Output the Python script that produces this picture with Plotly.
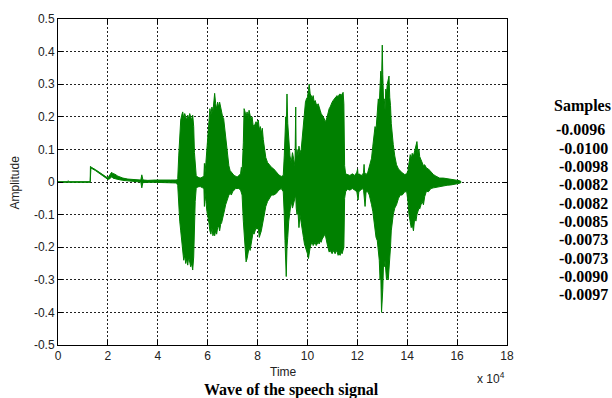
import plotly.graph_objects as go

# ---- envelope of the speech waveform (time in units of 10^4 samples) ----
t = [0.00, 0.38, 0.40, 0.44, 1.29, 1.30, 1.32, 1.50, 1.70, 1.90, 2.00, 2.08, 2.15, 2.20, 2.28, 2.40, 2.60, 2.80, 3.00, 3.32, 3.36, 3.40, 3.44, 3.60, 3.90, 4.20, 4.50, 4.75,
     4.80, 4.84, 4.88, 4.92, 4.96, 5.00, 5.04, 5.08, 5.12, 5.16, 5.20, 5.24, 5.28, 5.32, 5.36, 5.40, 5.44, 5.47, 5.50, 5.54,
     5.60, 5.70, 5.80, 5.85, 5.87, 5.89,
     5.93, 5.97, 6.01, 6.05, 6.09, 6.13, 6.17, 6.21, 6.25, 6.28, 6.32, 6.36, 6.40, 6.44, 6.48, 6.52, 6.56, 6.60, 6.64, 6.68, 6.72, 6.76, 6.80, 6.85, 6.90, 6.95, 7.00, 7.06, 7.12, 7.18,
     7.25, 7.32, 7.35, 7.38, 7.43, 7.46, 7.50, 7.54, 7.58, 7.62, 7.66, 7.70, 7.74, 7.78, 7.82, 7.86, 7.90, 7.94, 7.98, 8.03, 8.07, 8.11, 8.15, 8.19, 8.23, 8.28, 8.33, 8.40, 8.48, 8.56, 8.65, 8.75, 8.85, 8.95, 9.03,
     9.07, 9.10, 9.13, 9.15, 9.18, 9.21, 9.25, 9.30, 9.35, 9.40, 9.45, 9.50, 9.53, 9.55, 9.58, 9.62, 9.66, 9.70, 9.75, 9.80,
     9.84, 9.88, 9.92, 9.96, 10.00, 10.04, 10.07, 10.11, 10.15, 10.19, 10.23, 10.27, 10.31, 10.35, 10.39, 10.43, 10.47, 10.51, 10.55, 10.59, 10.63, 10.67, 10.71, 10.75, 10.79, 10.83, 10.87, 10.91, 10.95, 10.99, 11.03, 11.07, 11.11, 11.15, 11.19, 11.23, 11.27, 11.31, 11.35, 11.39, 11.43, 11.46, 11.49,
     11.53, 11.60, 11.70, 11.80, 11.90, 11.98, 12.01, 12.03, 12.06, 12.12, 12.20, 12.25, 12.27, 12.29, 12.31, 12.35, 12.42, 12.48,
     12.52, 12.57, 12.62, 12.67, 12.71, 12.75, 12.80, 12.84, 12.88, 12.91, 12.94, 12.97, 13.00, 13.02, 13.05, 13.08, 13.11, 13.14, 13.17, 13.20, 13.24, 13.27, 13.30, 13.33, 13.36, 13.40, 13.44, 13.50, 13.57, 13.65, 13.72, 13.80, 13.90,
     13.98, 14.03, 14.07, 14.12, 14.16, 14.20, 14.25, 14.30, 14.35, 14.39, 14.43, 14.47, 14.50, 14.55, 14.60, 14.65, 14.70, 14.77, 14.85, 14.95, 15.05, 15.15, 15.30, 15.45, 15.60, 15.75, 15.90, 16.00, 16.10, 16.15]

upper = [0.001, 0.001, 0.004, 0.001, 0.001, 0.048, 0.046, 0.038, 0.028, 0.017, 0.012, 0.022, 0.030, 0.026, 0.024, 0.018, 0.012, 0.009, 0.007, 0.006, 0.022, 0.008, 0.006, 0.005, 0.006, 0.005, 0.006, 0.006,
         0.010, 0.080, 0.150, 0.190, 0.205, 0.215, 0.195, 0.210, 0.200, 0.190, 0.205, 0.195, 0.210, 0.200, 0.190, 0.205, 0.170, 0.090, 0.050, 0.020,
         0.015, 0.012, 0.015, 0.020, 0.057, 0.025,
         0.060, 0.110, 0.150, 0.190, 0.225, 0.205, 0.230, 0.215, 0.250, 0.272, 0.240, 0.225, 0.245, 0.230, 0.245, 0.225, 0.215, 0.200, 0.195, 0.165, 0.130, 0.100, 0.070, 0.050, 0.035, 0.030, 0.025, 0.020, 0.018, 0.015,
         0.020, 0.025, 0.045, 0.030, 0.120, 0.225, 0.215, 0.200, 0.215, 0.195, 0.220, 0.205, 0.190, 0.200, 0.175, 0.170, 0.180, 0.185, 0.175, 0.190, 0.160, 0.170, 0.150, 0.165, 0.130, 0.095, 0.075, 0.060, 0.052, 0.045, 0.040, 0.030, 0.022, 0.017, 0.020,
         0.080, 0.150, 0.200, 0.160, 0.270, 0.180, 0.120, 0.080, 0.060, 0.090, 0.070, 0.050, 0.230, 0.060, 0.100, 0.080, 0.110, 0.090, 0.100, 0.150,
         0.180, 0.230, 0.245, 0.255, 0.260, 0.280, 0.300, 0.270, 0.265, 0.255, 0.265, 0.245, 0.250, 0.240, 0.235, 0.240, 0.225, 0.220, 0.210, 0.205, 0.200, 0.195, 0.185, 0.190, 0.200, 0.215, 0.225, 0.230, 0.240, 0.245, 0.250, 0.255, 0.258, 0.262, 0.265, 0.260, 0.268, 0.270, 0.265, 0.272, 0.275, 0.240, 0.050,
         0.025, 0.022, 0.020, 0.025, 0.020, 0.030, 0.040, 0.020, 0.025, 0.022, 0.020, 0.030, 0.054, 0.030, 0.025, 0.022, 0.030, 0.045,
         0.058, 0.073, 0.110, 0.150, 0.170, 0.160, 0.210, 0.255, 0.240, 0.305, 0.340, 0.300, 0.420, 0.330, 0.250, 0.255, 0.220, 0.285, 0.270, 0.300, 0.310, 0.325, 0.260, 0.235, 0.180, 0.130, 0.115, 0.080, 0.053, 0.040, 0.033, 0.028, 0.023,
         0.025, 0.035, 0.060, 0.084, 0.070, 0.088, 0.080, 0.100, 0.110, 0.124, 0.090, 0.100, 0.078, 0.070, 0.060, 0.050, 0.053, 0.043, 0.040, 0.030, 0.023, 0.018, 0.012, 0.012, 0.010, 0.009, 0.008, 0.006, 0.004, 0.002]

lower = [-0.001, -0.001, 0.000, -0.001, -0.001, 0.000, 0.043, 0.035, 0.025, 0.014, 0.008, 0.010, 0.016, 0.012, 0.011, 0.008, 0.005, 0.003, 0.002, 0.000, -0.018, -0.002, 0.000, -0.001, -0.001, -0.002, -0.002, -0.003,
         -0.010, -0.070, -0.120, -0.150, -0.175, -0.200, -0.240, -0.225, -0.250, -0.235, -0.255, -0.230, -0.245, -0.260, -0.250, -0.270, -0.230, -0.150, -0.060, -0.020,
         -0.015, -0.014, -0.018, -0.020, -0.075, -0.030,
         -0.060, -0.090, -0.110, -0.125, -0.150, -0.160, -0.140, -0.165, -0.155, -0.165, -0.150, -0.160, -0.140, -0.135, -0.150, -0.130, -0.125, -0.110, -0.100, -0.085, -0.070, -0.060, -0.050, -0.040, -0.035, -0.040, -0.030, -0.025, -0.020, -0.020,
         -0.020, -0.025, -0.030, -0.040, -0.120, -0.180, -0.200, -0.245, -0.235, -0.220, -0.200, -0.210, -0.190, -0.170, -0.155, -0.160, -0.150, -0.140, -0.145, -0.140, -0.170, -0.160, -0.150, -0.130, -0.120, -0.100, -0.075, -0.060, -0.050, -0.040, -0.040, -0.035, -0.025, -0.020, -0.030,
         -0.100, -0.180, -0.200, -0.290, -0.200, -0.170, -0.120, -0.090, -0.060, -0.080, -0.070, -0.050, -0.040, -0.080, -0.100, -0.090, -0.140, -0.100, -0.120, -0.150,
         -0.170, -0.190, -0.200, -0.210, -0.220, -0.235, -0.220, -0.200, -0.190, -0.185, -0.195, -0.190, -0.185, -0.195, -0.190, -0.185, -0.190, -0.180, -0.185, -0.175, -0.170, -0.165, -0.160, -0.175, -0.190, -0.205, -0.215, -0.210, -0.215, -0.220, -0.210, -0.215, -0.220, -0.210, -0.215, -0.225, -0.220, -0.225, -0.215, -0.220, -0.210, -0.200, -0.050,
         -0.030, -0.022, -0.025, -0.020, -0.025, -0.030, -0.040, -0.055, -0.030, -0.025, -0.020, -0.025, -0.030, -0.050, -0.075, -0.030, -0.030, -0.040,
         -0.050, -0.070, -0.090, -0.110, -0.140, -0.170, -0.180, -0.200, -0.240, -0.300, -0.280, -0.400, -0.360, -0.330, -0.250, -0.260, -0.240, -0.270, -0.300, -0.290, -0.300, -0.260, -0.250, -0.200, -0.150, -0.130, -0.100, -0.080, -0.070, -0.050, -0.040, -0.040, -0.030,
         -0.030, -0.060, -0.100, -0.120, -0.140, -0.130, -0.150, -0.110, -0.120, -0.100, -0.090, -0.080, -0.083, -0.070, -0.060, -0.070, -0.045, -0.028, -0.030, -0.020, -0.018, -0.015, -0.013, -0.012, -0.010, -0.009, -0.008, -0.006, -0.004, -0.002]

x_ticks = [0, 2, 4, 6, 8, 10, 12, 14, 16, 18]
y_ticks = [-0.5, -0.4, -0.3, -0.2, -0.1, 0, 0.1, 0.2, 0.3, 0.4, 0.5]
y_tick_text = ["-0.5", "-0.4", "-0.3", "-0.2", "-0.1", "0", "0.1", "0.2", "0.3", "0.4", "0.5"]

sample_values = ["-0.0096", "-0.0100", "-0.0098", "-0.0082", "-0.0082",
                 "-0.0085", "-0.0073", "-0.0073", "-0.0090", "-0.0097"]

GREEN = "#008000"

fig = go.Figure()
fig.add_trace(go.Scatter(
    x=t + t[::-1], y=upper + lower[::-1],
    mode="lines", fill="toself", fillcolor=GREEN,
    line=dict(color=GREEN, width=1), hoverinfo="skip", showlegend=False))

# plot-area geometry in pixels
L, R, T, B = 58, 507, 16, 345
W, H = 612, 398

def px(xp):
    return (xp - L) / (R - L)

def py(yp):
    return (B - yp) / (B - T)

axis_common = dict(showline=True, linecolor="black", linewidth=1, mirror="ticks",
                   ticks="inside", ticklen=5, tickcolor="black",
                   showgrid=True, gridcolor="#222222", gridwidth=1, griddash="2px,2px",
                   zeroline=False,
                   tickfont=dict(family="Liberation Sans, Arial", size=12, color="#222222"))

fig.update_xaxes(range=[0, 18], tickvals=x_ticks, ticktext=[str(v) for v in x_ticks], **axis_common)
fig.update_yaxes(range=[-0.5, 0.5], tickvals=y_ticks, ticktext=y_tick_text, **axis_common)

ann = []
sans = dict(family="Liberation Sans, Arial", size=12, color="#222222")
serif_b = dict(family="Liberation Serif, Times New Roman", size=16, color="black")
ann.append(dict(text="Amplitude", x=px(15), y=py(181), textangle=-90, font=sans))
ann.append(dict(text="Time", x=px(283), y=py(372), font=sans))
ann.append(dict(text="x 10<sup>4</sup>", x=px(491), y=py(378), font=sans))
ann.append(dict(text="<b>Wave of the speech signal</b>", x=px(291), y=py(390), font=serif_b))
ann.append(dict(text="<b>Samples</b>", x=px(582), y=py(104), font=serif_b))
for i, v in enumerate(sample_values):
    xc = 580 if i == 0 else 583
    ann.append(dict(text="<b>%s</b>" % v, x=px(xc), y=py(128 + i * 18.5), font=serif_b))
for a in ann:
    a.update(xref="paper", yref="paper", showarrow=False, xanchor="center", yanchor="middle")

fig.update_layout(width=W, height=H, autosize=False,
                  margin=dict(l=L, r=W - R, t=T, b=H - B),
                  paper_bgcolor="white", plot_bgcolor="white",
                  annotations=ann, showlegend=False)

fig.write_html("out.html", config={"displayModeBar": False},
               post_script="document.body.style.margin='0';document.body.style.padding='0';")
